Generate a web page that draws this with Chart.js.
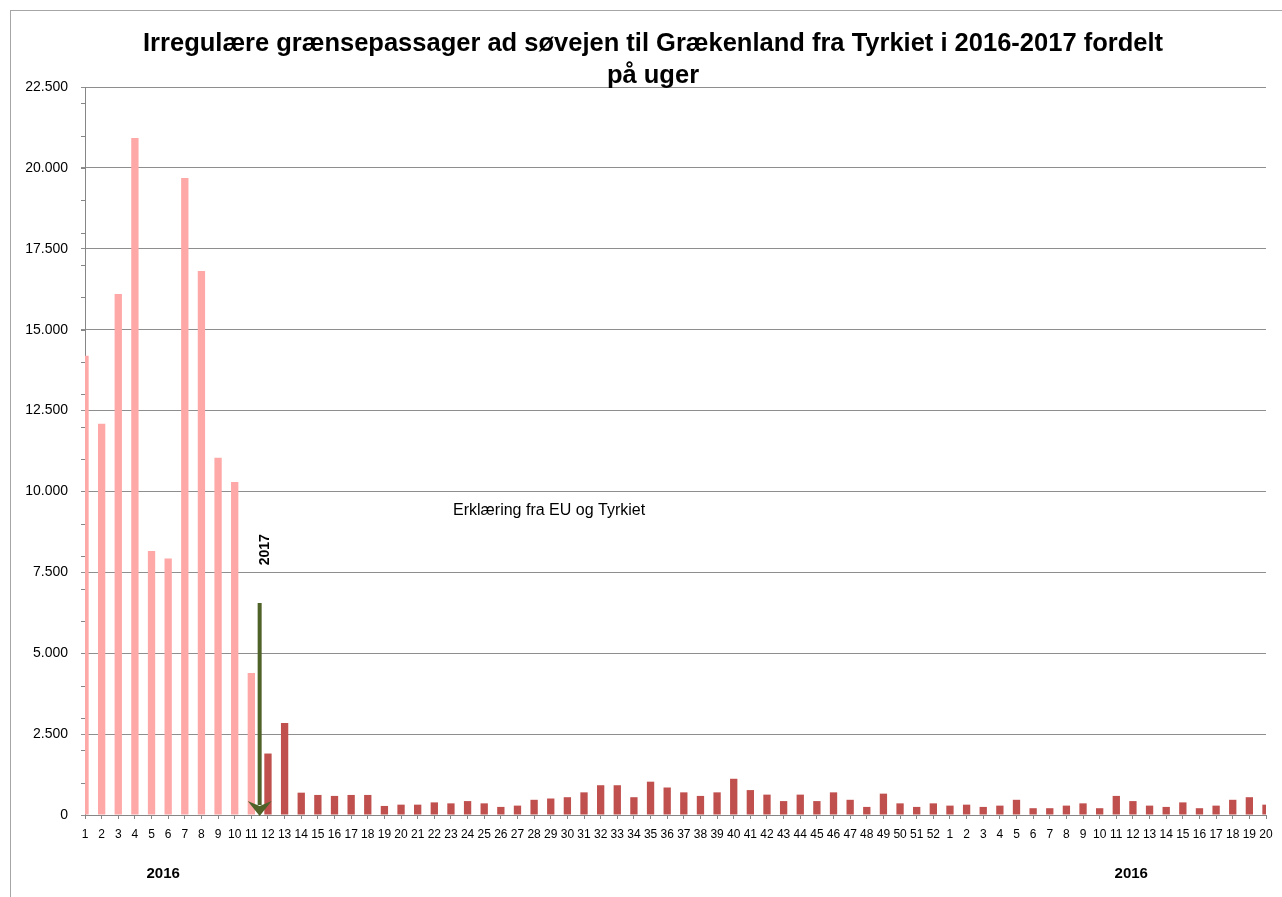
<!DOCTYPE html>
<html>
<head>
<meta charset="utf-8">
<script src="https://cdn.jsdelivr.net/npm/chart.js@4/dist/chart.umd.min.js"></script>
<style>
    body { margin: 0; background: #fff; }
    .wrap { position: relative; width: 1282px; height: 897px; overflow: hidden; }
    .frame { position: absolute; left: 10px; top: 10px; width: 1400px; height: 1000px;
             border-left: 1px solid #a6a6a6; border-top: 1px solid #a6a6a6; pointer-events: none; }
    canvas { position: absolute; left: 0; top: 0; }
</style>
</head>
<body>
<div class="wrap">
    <div class="frame"></div>
    <canvas id="weekChart" width="1282" height="897"></canvas>
</div>
<script>
// uger 2016 (1-52) og 2017 (1-20)
const weeks2016 = Array.from({ length : 52 }, (_, i) => String(i + 1));
const weeks2017 = Array.from({ length : 20 }, (_, i) => String(i + 1));

const values2016 = [
    14190, 12090, 16100, 20920, 8160, 7930, 19690, 16810, 11040, 10290,
    4390, 1900, 2840, 690, 620, 590, 620, 620, 280, 320,
    320, 390, 360, 430, 360, 250, 290, 470, 510, 550,
    700, 920, 920, 550, 1030, 850, 700, 590, 700, 1120,
    770, 630, 430, 630, 430, 700, 470, 250, 660, 360,
    250, 360
];
const values2017 = [
    290, 320, 250, 290, 470, 210, 210, 290, 360, 210,
    590, 430, 290, 250, 390, 210, 290, 470, 550, 320
];

// før erklæringen (uge 1-11 2016) vises lyserødt
const beforeDeclaration = 11;

const yTicks = [0, 2500, 5000, 7500, 10000, 12500, 15000, 17500, 20000, 22500];

const labels = [...weeks2016, ...weeks2017];
const values = [...values2016, ...values2017];

const titleLines = [
    'Irregulære grænsepassager ad søvejen til Grækenland fra Tyrkiet i 2016-2017 fordelt',
    'på uger'
];

function formatDk(v) {
    return String(v).replace(/\B(?=(\d{3})+(?!\d))/g, '.');
}

const annotations = {
    id : 'annotations',
    afterDraw(chart) {
        const ctx = chart.ctx;
        const x = chart.scales.x;
        const y = chart.scales.y;

        ctx.save();
        ctx.fillStyle = '#000';

        // titel
        ctx.font = 'bold 25.5px "Liberation Sans", Arial, sans-serif';
        ctx.textAlign = 'center';
        ctx.textBaseline = 'middle';
        ctx.fillText(titleLines[0], 653, 44);
        ctx.fillText(titleLines[1], 653, 76);

        // små hjælpestreger på y-aksen
        ctx.strokeStyle = '#868686';
        ctx.lineWidth = 1;
        for (let v = 1000; v < 22500; v += 1000) {
            const py = Math.round(y.getPixelForValue(v)) + 0.5;
            ctx.beginPath();
            ctx.moveTo(x.left - 4, py);
            ctx.lineTo(x.left, py);
            ctx.stroke();
        }

        // pil ved erklæringen
        const ax = x.getPixelForValue(10.5);
        const aTop = y.getPixelForValue(6550);
        const aBottom = y.getPixelForValue(0);
        ctx.strokeStyle = '#4f6228';
        ctx.fillStyle = '#4f6228';
        ctx.lineWidth = 4;
        ctx.beginPath();
        ctx.moveTo(ax, aTop);
        ctx.lineTo(ax, aBottom - 10);
        ctx.stroke();
        ctx.beginPath();
        ctx.moveTo(ax - 12, aBottom - 14);
        ctx.lineTo(ax, aBottom - 9);
        ctx.lineTo(ax + 12, aBottom - 14);
        ctx.lineTo(ax, aBottom + 1);
        ctx.closePath();
        ctx.fill();

        // tekster
        ctx.fillStyle = '#000';
        ctx.save();
        ctx.translate(x.getPixelForValue(10.85), y.getPixelForValue(8200));
        ctx.rotate(-Math.PI / 2);
        ctx.font = 'bold 14px "Liberation Sans", Arial, sans-serif';
        ctx.fillText('2017', 0, 0);
        ctx.restore();

        ctx.font = '16px "Liberation Sans", Arial, sans-serif';
        ctx.fillText('Erklæring fra EU og Tyrkiet', x.getPixelForValue(27.9), y.getPixelForValue(9400));

        ctx.font = 'bold 15px "Liberation Sans", Arial, sans-serif';
        ctx.fillText('2016', x.getPixelForValue(4.7), 874);
        ctx.fillText('2016', x.getPixelForValue(62.9), 874);

        ctx.restore();
    }
};

new Chart(document.getElementById('weekChart').getContext('2d'), {
    type : 'bar',
    data : {
        labels : labels,
        datasets : [ {
            data : values,
            backgroundColor : (c) => c.dataIndex < beforeDeclaration ? '#ffa8a8' : '#c0504d',
            categoryPercentage : 1,
            barPercentage : 0.44
        } ]
    },
    options : {
        responsive : false,
        animation : false,
        layout : {
            padding : { top : 87, right : 16, left : 0, bottom : 0 }
        },
        plugins : {
            legend : { display : false },
            title : { display : false },
            tooltip : { enabled : false }
        },
        scales : {
            x : {
                offset : false,
                afterFit : (s) => { s.height = 82; },
                grid : {
                    offset : false,
                    drawOnChartArea : false,
                    tickLength : 4,
                    color : '#868686'
                },
                border : { color : '#868686' },
                ticks : {
                    autoSkip : false,
                    maxRotation : 0,
                    minRotation : 0,
                    padding : 8,
                    color : '#000',
                    font : { family : '"Liberation Sans", Arial, sans-serif', size : 12 }
                }
            },
            y : {
                min : 0,
                max : 22500,
                afterFit : (s) => { s.width = 85; },
                afterBuildTicks : (s) => { s.ticks = yTicks.map(v => ({ value : v })); },
                grid : {
                    color : '#8e8e8e',
                    tickLength : 4
                },
                border : { color : '#868686' },
                ticks : {
                    padding : 13,
                    color : '#000',
                    font : { family : '"Liberation Sans", Arial, sans-serif', size : 14 },
                    callback : (v) => formatDk(v)
                }
            }
        }
    },
    plugins : [ annotations ]
});
</script>
</body>
</html>
